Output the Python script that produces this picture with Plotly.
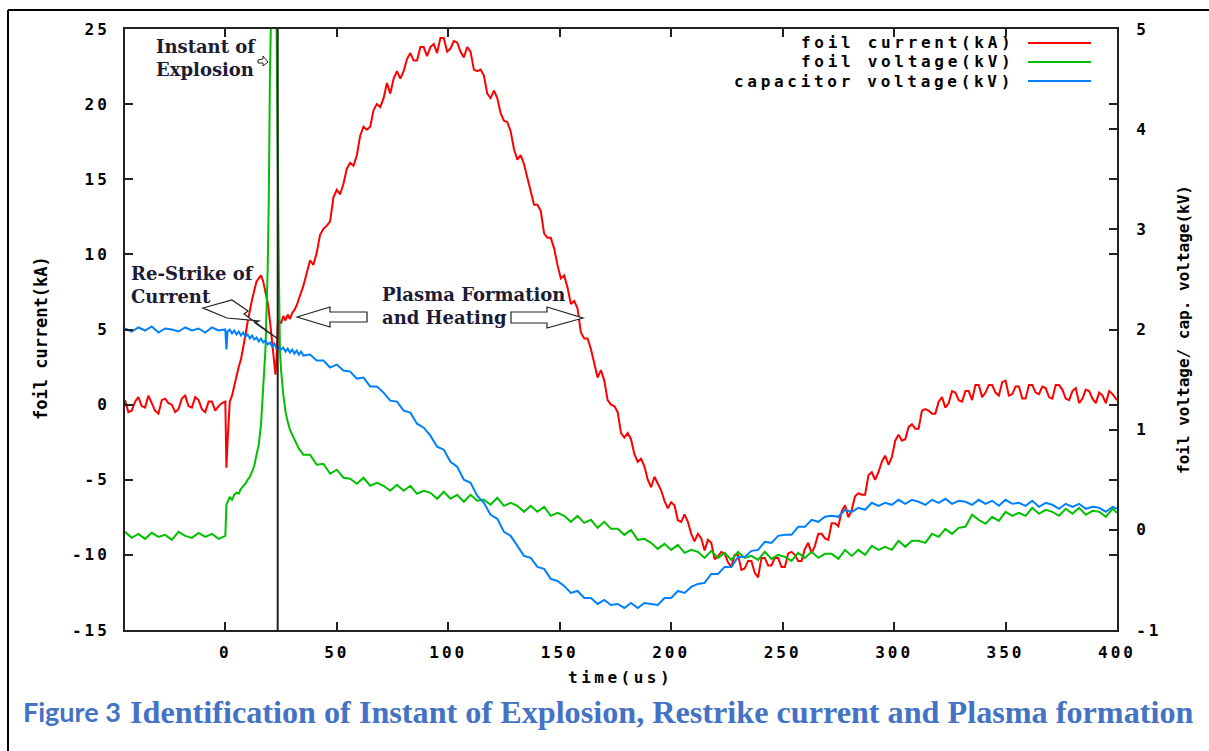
import plotly.graph_objects as go

# ---------------- oscilloscope record ----------------
# sample times (us)
t_pre = [-45, -42, -39, -36, -33, -30, -27, -24, -21, -18, -15, -12, -9, -6, -3]
t_main = [38, 41, 44, 47, 50, 53, 56, 59, 62, 65, 68, 71, 74, 77, 80, 83, 86, 89, 92, 95,
          98, 101, 104, 107, 110, 113, 116, 119, 122, 125, 128, 131, 134, 137, 140, 143, 146, 149, 152, 155,
          158, 161, 164, 167, 170, 173, 176, 179, 182, 185, 188, 191, 194, 197, 200, 203, 206, 209, 212, 215,
          218, 221, 224, 227, 230, 233, 236, 239, 242, 245, 248, 251, 254, 257, 260, 263, 266, 269, 272, 275,
          278, 281, 284, 287, 290, 293, 296, 299, 302, 305, 308, 311, 314, 317, 320, 323, 326, 329, 332, 335,
          338, 341, 344, 347, 350, 353, 356, 359, 362, 365, 368, 371, 374, 377, 380, 383, 386, 389, 392, 395,
          398, 400]
# the current channel is also sampled half-way between those instants
t_pre_half = [t + 1.5 for t in t_pre]
t_main_half = [t + 1.5 for t in t_main[:-1]]

# foil current (kA)
t_cur_event = [0, 0.5, 1, 1.5, 2, 3, 4, 5, 6, 7, 8, 9, 10, 11, 12, 13, 14, 15, 16, 17, 18, 19, 20, 21, 22,
               22.5, 23, 23.5, 24, 25, 26, 27, 28, 29, 30, 31, 32, 33, 34, 35]
cur_pre = [0.3, -0.4, 0.5, -0.2, 0.1, -0.6, 0.4, 0.0, -0.3, 0.6, -0.2, 0.3, -0.5, 0.2, -0.1]
cur_pre_half = [-0.5, 0.2, -0.1, 0.6, -0.4, 0.3, 0.1, -0.5, 0.4, -0.1, 0.5, -0.3, 0.2, -0.4, 0.1]
cur_event = [0.2, -4.2, -2.5, -0.8, 0.2, 0.6, 1.3, 1.9, 2.5, 3.0, 3.7, 4.6, 5.5, 6.4, 7.0, 7.6, 8.2, 8.4, 8.6,
             8.2, 7.6, 6.8, 5.6, 4.2, 2.5, 2.0, 3.0, 5.3, 5.6, 5.4, 5.9, 5.6, 6.0, 5.7, 6.1, 6.3, 6.6, 7.0,
             7.5, 7.9]
cur_main = [9.6, 10.1, 11.7, 12.2, 14.3, 14.7, 16.1, 16.6, 18.5, 18.5,
            20.0, 20.4, 20.7, 22.2, 22.2, 23.4, 22.9, 23.8, 23.8, 23.4,
            24.4, 23.7, 24.1, 23.1, 23.5, 22.2, 21.9, 20.4, 20.4, 18.9,
            18.2, 16.3, 16.0, 14.0, 13.3, 11.4, 11.1, 9.3, 8.6, 6.7,
            6.4, 4.4, 3.7, 1.8, 1.6, 0.0, -0.5, -2.2, -2.3, -3.8,
            -4.1, -5.5, -5.2, -6.4, -6.5, -7.7, -7.3, -8.6, -8.6, -9.7,
            -9.2, -10.1, -9.9, -10.8, -10.0, -10.9, -10.4, -11.5, -10.2, -10.7,
            -10.2, -10.8, -9.8, -10.4, -9.6, -9.9, -8.6, -8.9, -7.9, -8.1,
            -6.7, -7.0, -5.9, -6.0, -4.5, -4.5, -3.4, -3.5, -2.0, -2.3,
            -1.3, -1.6, -0.3, -0.6, 0.2, -0.2, 0.9, 0.3, 0.9, 0.3,
            1.3, 0.8, 1.3, 0.6, 1.6, 0.7, 1.2, 0.4, 1.3, 0.7,
            1.1, 0.4, 1.3, 0.4, 0.9, 0.1, 1.0, 0.4, 0.8, 0.1,
            0.7, 0.3]
cur_main_half = [9.3, 11.3, 11.9, 13.8, 14.0, 15.7, 15.9, 17.9, 18.3, 19.6,
                 19.8, 21.4, 21.7, 21.7, 23.0, 22.9, 23.8, 23.2, 24.0, 24.4,
                 23.5, 24.2, 23.5, 23.8, 22.3, 22.3, 20.7, 20.9, 19.4, 18.8,
                 17.0, 16.6, 15.1, 13.3, 12.9, 11.1, 10.4, 8.4, 7.8, 6.9,
                 4.8, 4.4, 2.7, 2.3, 0.3, -0.1, -1.9, -1.9, -3.3, -3.6,
                 -5.0, -4.8, -5.7, -6.9, -6.7, -7.8, -7.8, -9.1, -8.9, -9.0,
                 -10.3, -9.8, -10.5, -10.0, -11.0, -10.4, -11.2, -10.2, -10.7, -10.2,
                 -10.8, -9.9, -10.0, -10.4, -9.2, -9.4, -8.6, -9.0, -7.9, -7.1,
                 -7.5, -6.1, -6.0, -4.7, -5.0, -3.8, -4.0, -2.4, -2.4, -1.5,
                 -1.6, -0.4, -0.4, -0.6, 0.5, 0.1, 0.8, 0.2, 0.9, 1.3,
                 0.5, 1.3, 0.8, 1.5, 0.6, 1.2, 0.4, 1.3, 0.8, 1.2,
                 0.5, 1.3, 1.0, 0.3, 1.1, 0.4, 0.9, 0.1, 0.6, 0.9]

# foil voltage (kV)
t_fv_event = [0, 0.5, 1, 2, 3, 4, 5, 6, 7, 8, 9, 10, 11, 12, 13, 14, 15, 16, 17, 18, 19,
              19.5, 20, 20.5, 21, 22, 23, 23.5, 24, 24.5, 25, 26, 27, 28, 29, 30, 31, 32, 33, 34, 35]
fv_pre = [-0.02, -0.08, -0.04, -0.09, -0.03, -0.07, -0.05, -0.10, -0.02, -0.06, -0.08, -0.03, -0.07, -0.04, -0.09]
fv_event = [-0.06, 0.25, 0.28, 0.33, 0.30, 0.35, 0.37, 0.36, 0.41, 0.43, 0.46, 0.50, 0.53, 0.58, 0.64, 0.75,
            0.85, 1.05, 1.5, 1.8, 2.6, 3.3, 4.5, 6.0, 7.0, 7.0, 5.0, 3.5, 2.6, 1.8, 1.6, 1.35, 1.18, 1.08,
            1.0, 0.95, 0.9, 0.85, 0.81, 0.78, 0.75]
fv_main = [0.75, 0.65, 0.66, 0.56, 0.60, 0.52, 0.51, 0.46, 0.52, 0.44,
           0.47, 0.44, 0.39, 0.45, 0.39, 0.44, 0.36, 0.39, 0.37, 0.31,
           0.38, 0.31, 0.35, 0.28, 0.35, 0.29, 0.30, 0.25, 0.32, 0.24,
           0.27, 0.24, 0.18, 0.24, 0.18, 0.23, 0.14, 0.17, 0.14, 0.08,
           0.14, 0.07, 0.10, 0.02, 0.08, 0.01, 0.01, -0.05, 0.00, -0.10,
           -0.09, -0.13, -0.19, -0.14, -0.20, -0.15, -0.23, -0.20, -0.22, -0.28,
           -0.21, -0.28, -0.23, -0.30, -0.22, -0.28, -0.26, -0.30, -0.22, -0.29,
           -0.25, -0.27, -0.31, -0.23, -0.28, -0.22, -0.28, -0.24, -0.24, -0.29,
           -0.20, -0.26, -0.20, -0.25, -0.16, -0.20, -0.17, -0.20, -0.11, -0.17,
           -0.11, -0.11, -0.13, -0.04, -0.07, 0.01, -0.04, 0.02, 0.03, 0.15,
           0.10, 0.06, 0.13, 0.09, 0.18, 0.14, 0.17, 0.14, 0.22, 0.16,
           0.20, 0.18, 0.14, 0.21, 0.16, 0.22, 0.15, 0.19, 0.18, 0.13,
           0.21, 0.17]

# capacitor voltage (kV)
t_cv_event = [0, 0.5, 1, 2, 3, 4, 5, 6, 7, 8, 9, 10, 11, 12, 13, 14, 15, 16, 17, 18, 19, 20, 21, 22,
              23, 24, 25, 26, 27, 28, 29, 30, 31, 32, 33, 34, 35]
cv_pre = [2.01, 1.98, 2.02, 1.99, 2.03, 1.97, 2.01, 2.00, 1.98, 2.02, 1.99, 2.01, 1.97, 2.02, 1.99]
cv_event = [2.00, 1.80, 1.98, 2.00, 1.96, 1.99, 1.95, 1.98, 1.94, 1.97, 1.93, 1.95, 1.91, 1.94, 1.90, 1.92,
            1.88, 1.91, 1.87, 1.89, 1.85, 1.87, 1.83, 1.86, 1.81, 1.82, 1.80, 1.82, 1.78, 1.81, 1.77, 1.80,
            1.76, 1.79, 1.75, 1.78, 1.74]
cv_main = [1.75, 1.69, 1.69, 1.62, 1.65, 1.59, 1.58, 1.51, 1.52, 1.43,
           1.43, 1.37, 1.29, 1.28, 1.19, 1.17, 1.06, 1.02, 0.94, 0.83,
           0.80, 0.68, 0.63, 0.50, 0.47, 0.34, 0.27, 0.15, 0.11, -0.02,
           -0.06, -0.16, -0.26, -0.28, -0.37, -0.39, -0.49, -0.51, -0.56, -0.63,
           -0.61, -0.68, -0.68, -0.74, -0.70, -0.75, -0.74, -0.78, -0.73, -0.78,
           -0.73, -0.74, -0.75, -0.68, -0.68, -0.61, -0.63, -0.57, -0.54, -0.53,
           -0.44, -0.44, -0.37, -0.37, -0.27, -0.27, -0.21, -0.20, -0.12, -0.13,
           -0.06, -0.05, -0.05, 0.03, 0.03, 0.10, 0.08, 0.13, 0.14, 0.13,
           0.20, 0.18, 0.22, 0.20, 0.27, 0.24, 0.27, 0.25, 0.30, 0.26,
           0.30, 0.28, 0.25, 0.30, 0.27, 0.31, 0.26, 0.29, 0.28, 0.25,
           0.30, 0.26, 0.29, 0.24, 0.30, 0.26, 0.27, 0.24, 0.29, 0.23,
           0.27, 0.25, 0.21, 0.26, 0.23, 0.26, 0.21, 0.23, 0.22, 0.18,
           0.23, 0.21]

explosion_time = 23.5

series_names = ["foil current(kA)", "foil voltage(kV)", "capacitor voltage(kV)"]
series_colors = ["#ff0000", "#00c000", "#0080ff"]

x_ticks = [0, 50, 100, 150, 200, 250, 300, 350, 400]
y_ticks = [-15, -10, -5, 0, 5, 10, 15, 20, 25]
y2_ticks = [-1, 0, 1, 2, 3, 4, 5]


def merged(times, values):
    """Time-ordered (t, v) lists from several sample groups."""
    pairs = sorted(zip(times, values))
    return [p[0] for p in pairs], [p[1] for p in pairs]


cur_t, cur_v = merged(t_pre + t_pre_half + t_cur_event + t_main + t_main_half,
                      cur_pre + cur_pre_half + cur_event + cur_main + cur_main_half)
fv_t, fv_v = merged(t_pre + t_fv_event + t_main, fv_pre + fv_event + fv_main)
cv_t, cv_v = merged(t_pre + t_cv_event + t_main, cv_pre + cv_event + cv_main)

# ---------------- page geometry ----------------
W, H = 1209, 751
L, R, T, B = 125, 1117, 29, 630   # plot frame in pixels


def px(x):
    return (x - L) / (R - L)


def py(y):
    return (B - y) / (B - T)


def path(points):
    pts = ["%s%.5f,%.5f" % ("M" if i == 0 else "L", px(x), py(y)) for i, (x, y) in enumerate(points)]
    return " ".join(pts) + " Z"


MONO = "DejaVu Sans Mono"
SERIF = "DejaVu Serif"
INK = "#1c1c34"


def spaced(s, gap=3.0):
    return '<span style="letter-spacing:%.1fpx">%s</span>' % (gap, s)


fig = go.Figure()
fig.add_trace(go.Scatter(x=cur_t, y=cur_v, mode="lines", name=series_names[0],
                         line=dict(color=series_colors[0], width=2), yaxis="y"))
fig.add_trace(go.Scatter(x=fv_t, y=fv_v, mode="lines", name=series_names[1],
                         line=dict(color=series_colors[1], width=2), yaxis="y2"))
fig.add_trace(go.Scatter(x=cv_t, y=cv_v, mode="lines", name=series_names[2],
                         line=dict(color=series_colors[2], width=2), yaxis="y2"))

tickfont = dict(family=MONO, size=16, color="#000", weight="bold")
axis_common = dict(ticks="inside", ticklen=8, tickwidth=1.5, tickcolor="#222",
                   showline=True, linewidth=2, linecolor="#222",
                   showgrid=False, zeroline=False, tickfont=tickfont)

fig.update_layout(
    width=W, height=H,
    margin=dict(l=L, r=W - R, t=T, b=H - B, pad=0),
    paper_bgcolor="white", plot_bgcolor="white",
    showlegend=False,
    xaxis=dict(range=[-45, 400], tickvals=x_ticks, ticktext=[spaced(str(v)) for v in x_ticks],
               mirror="ticks", ticklabelstandoff=7, **axis_common),
    yaxis=dict(range=[-15, 25], tickvals=y_ticks, ticktext=[spaced(str(v)) for v in y_ticks],
               mirror="ticks", ticklabelstandoff=10, **axis_common),
    yaxis2=dict(range=[-1, 5], tickvals=y2_ticks, ticktext=[spaced(str(v)) for v in y2_ticks],
                overlaying="y", side="right", ticklabelstandoff=14, **axis_common),
)

shapes = []
# explosion instant marker
shapes.append(dict(type="line", xref="x", yref="paper", x0=explosion_time, x1=explosion_time, y0=0, y1=1,
                   line=dict(color="#222", width=2)))
# legend samples
legend_rows = [43, 62, 81]
for yy, col in zip(legend_rows, series_colors):
    shapes.append(dict(type="line", xref="paper", yref="paper", x0=px(1028), x1=px(1091), y0=py(yy), y1=py(yy),
                       line=dict(color=col, width=2)))
# hollow block arrows around the plasma label
arrow_line = dict(color="#222", width=1.2)
shapes.append(dict(type="path", xref="paper", yref="paper", fillcolor="white", line=arrow_line,
                   path=path([(297, 317), (330, 307), (330, 312), (367, 312), (367, 322), (330, 322), (330, 327)])))
shapes.append(dict(type="path", xref="paper", yref="paper", fillcolor="white", line=arrow_line,
                   path=path([(511, 312), (547, 312), (547, 307), (583, 318), (547, 328), (547, 323), (511, 323)])))
# bolt arrow pointing at the re-strike
shapes.append(dict(type="path", xref="paper", yref="paper", fillcolor="white", line=arrow_line,
                   path=path([(203, 308), (232, 300), (248, 311), (244, 314), (278, 339), (255, 323),
                              (259, 321), (227, 318)])))
# small arrow next to the explosion label
shapes.append(dict(type="path", xref="paper", yref="paper", fillcolor="white", line=dict(color="#222", width=1),
                   path=path([(258, 60), (263, 59), (263, 56), (268, 62), (263, 66), (263, 63), (258, 63)])))
# outer frame of the figure
shapes.append(dict(type="line", xref="paper", yref="paper", x0=px(8), x1=px(8), y0=py(10), y1=py(760),
                   line=dict(color="black", width=2)))
shapes.append(dict(type="line", xref="paper", yref="paper", x0=px(8), x1=px(1215), y0=py(10), y1=py(10),
                   line=dict(color="black", width=2)))

annotations = []


def note(text, x, y, font, xanchor="left", yanchor="middle", angle=0, align="left"):
    annotations.append(dict(text=text, xref="paper", yref="paper", x=px(x), y=py(y), showarrow=False,
                            xanchor=xanchor, yanchor=yanchor, textangle=angle, font=font, align=align,
                            borderpad=0))


label_font = dict(family=SERIF, size=18, color=INK, weight="bold")
note("Instant of<br>Explosion", 155, 58, label_font)
note("Re-Strike of<br>Current", 130, 285, label_font)
note("Plasma Formation<br>and Heating", 381, 306, label_font)

legend_font = dict(family=MONO, size=16, color="#000", weight="bold")
for yy, name in zip(legend_rows, series_names):
    note(spaced(name, 3.7), 1015, yy, legend_font, xanchor="right")

note(spaced("time(us)", 3.5), 620, 677, dict(family=MONO, size=16, color="#000", weight="bold"),
     xanchor="center")
note("foil current(kA)", 41, 338, dict(family=MONO, size=17, color="#000", weight="bold"),
     xanchor="center", angle=-90)
note("foil voltage/ cap. voltage(kV)", 1183, 330, dict(family=MONO, size=16, color="#000", weight="bold"),
     xanchor="center", angle=-90)

note("Figure 3", 22, 712, dict(family="Lato", size=27, color="#4472c4", weight="bold"))
note("Identification of Instant of Explosion, Restrike current and Plasma formation", 129, 712,
     dict(family="Liberation Serif", size=32.2, color="#4472c4", weight="bold"))

fig.update_layout(shapes=shapes, annotations=annotations)

fig.write_html("out.html")
